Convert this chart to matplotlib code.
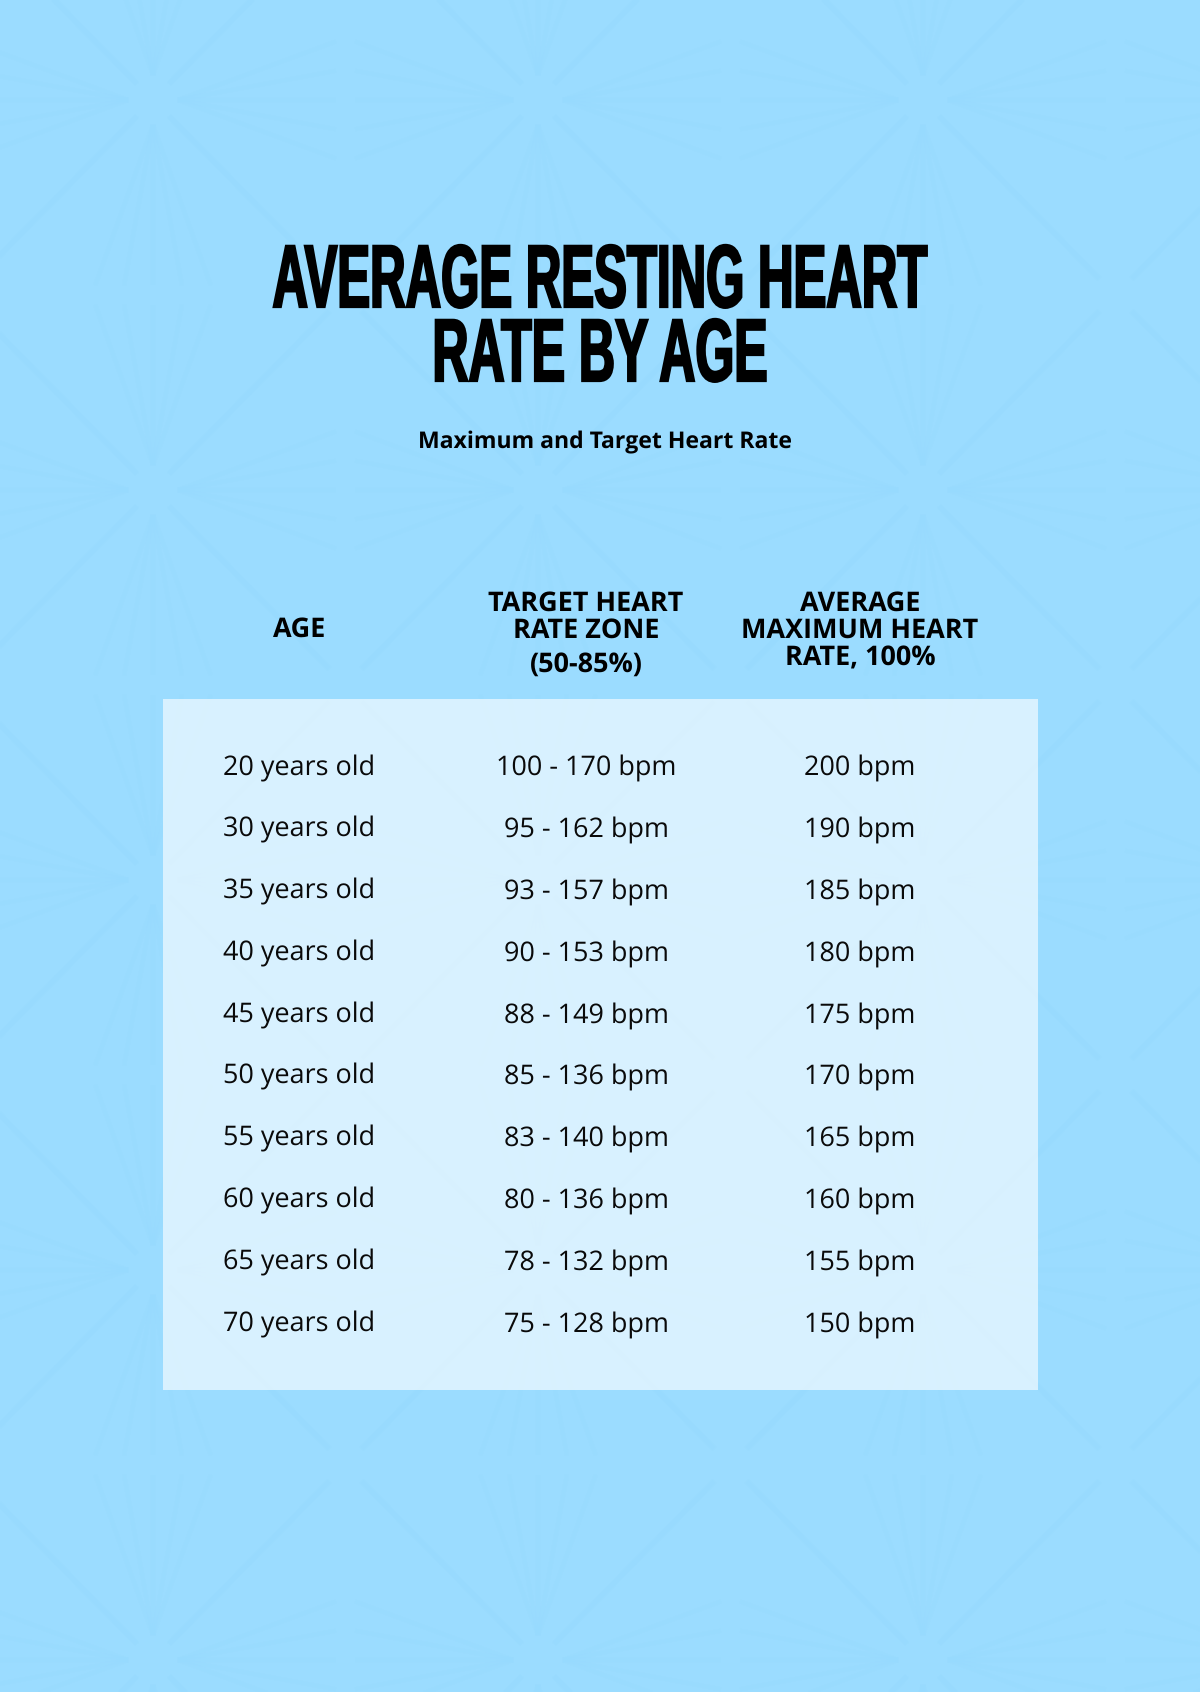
import matplotlib
matplotlib.use("Agg")
import matplotlib.pyplot as plt
import matplotlib.patheffects as pe
from matplotlib.collections import LineCollection
from matplotlib.patches import Rectangle
from matplotlib.transforms import Affine2D

ages = ["20 years old", "30 years old", "35 years old", "40 years old", "45 years old",
        "50 years old", "55 years old", "60 years old", "65 years old", "70 years old"]
target_zones = ["100 - 170 bpm", "95 - 162 bpm", "93 - 157 bpm", "90 - 153 bpm", "88 - 149 bpm",
                "85 - 136 bpm", "83 - 140 bpm", "80 - 136 bpm", "78 - 132 bpm", "75 - 128 bpm"]
max_rates = ["200 bpm", "190 bpm", "185 bpm", "180 bpm", "175 bpm",
             "170 bpm", "165 bpm", "160 bpm", "155 bpm", "150 bpm"]

title_lines = ["AVERAGE RESTING HEART", "RATE BY AGE"]
subtitle = "Maximum and Target Heart Rate"
col_x = [299, 586, 860]

BG = "#9bdcff"
LINE = "#97dafe"
W, H = 1200, 1692

plt.rcParams["text.hinting"] = "none"
plt.rcParams["text.hinting_factor"] = 1


class Squeeze(pe.AbstractPathEffect):
    # Anton is not installed, so reshape the glyphs around the baseline and thicken them
    def __init__(self, sx, sy, cx, base, lw):
        super().__init__()
        self.sx, self.sy, self.cx, self.base, self.lw = sx, sy, cx, base, lw

    def draw_path(self, renderer, gc, tpath, affine, rgbFace=None):
        shape = (Affine2D().translate(-self.cx, -self.base)
                 .scale(self.sx, self.sy).translate(self.cx, self.base))
        gc0 = renderer.new_gc()
        gc0.copy_properties(gc)
        gc0.set_foreground("black")
        gc0.set_linewidth(self.lw)
        gc0.set_joinstyle("miter")
        renderer.draw_path(gc0, tpath, affine + shape, rgbFace)
        gc0.restore()


fig = plt.figure(figsize=(W / 100, H / 100), dpi=100, facecolor=BG)
ax = fig.add_axes([0, 0, 1, 1])
ax.set_xlim(0, W)
ax.set_ylim(H, 0)
ax.axis("off")

# faint star lattice behind everything
dx, dy = 192.5, 195
diag, rays = [], []
for i in range(-1, 8):
    for j in range(-1, 10):
        if (i + j) % 2:
            continue
        x0, y0 = 153 + dx * i, 100 + dy * j
        for sx in (-1, 1):
            for sy in (-1, 1):
                diag.append([(x0 + sx * 16, y0 + sy * 16), (x0 + sx * dx / 2, y0 + sy * dy / 2)])
        if i % 2 == 0 and j % 2 == 0:
            for k in (-0.3, -0.15, 0, 0.15, 0.3):
                for s in (-1, 1):
                    rays.append([(x0, y0 + s * 25), (x0 + k * dx, y0 + s * dy * 0.95)])
                    rays.append([(x0 + s * 25, y0), (x0 + s * dx * 0.95, y0 + k * dy)])
ax.add_collection(LineCollection(diag, colors=LINE, linewidths=4, alpha=0.55, zorder=1))
ax.add_collection(LineCollection(rays, colors=LINE, linewidths=3, alpha=0.3, zorder=1))

ax.add_patch(Rectangle((163, 699), 875, 691, facecolor="white", alpha=0.62, edgecolor="none", zorder=2))

FONT = "Open Sans"
title_base = [307, 381]
title_x = [602.5, 601.5]
title_sx = [0.885, 0.9]
for line, x, y, sx in zip(title_lines, title_x, title_base, title_sx):
    t = ax.text(x, y, line, ha="center", va="baseline", color="black", zorder=3,
                family=["Liberation Sans Narrow", "Liberation Sans"], weight="bold", fontsize=40)
    t.set_path_effects([Squeeze(sx, 1.6, x, H - y, 1.6)])

ax.text(605, 448, subtitle, ha="center", va="baseline", family=FONT, weight="bold",
        fontsize=16.25, color="black", zorder=3)

# header lines are placed one by one, the third column runs tighter than the second
headers = [
    (col_x[0], [("AGE", 637)]),
    (col_x[1], [("TARGET HEART", 611), ("RATE ZONE", 638), ("(50-85%)", 672)]),
    (col_x[2], [("AVERAGE", 611), ("MAXIMUM HEART", 638), ("RATE, 100%", 666)]),
]
for x, lines in headers:
    for txt, y in lines:
        ax.text(x, y, txt, ha="center", va="baseline", family=FONT, weight="bold",
                fontsize=19.6, color="black", zorder=3)

first_row, row_step = 775, 61.8
for r, row in enumerate(zip(ages, target_zones, max_rates)):
    for x, txt in zip(col_x, row):
        ax.text(x, first_row + r * row_step, txt, ha="center", va="baseline", family=FONT,
                fontsize=19.6, color="#0a0a0a", zorder=3)

fig.savefig("out.png", dpi=100, facecolor=BG)
